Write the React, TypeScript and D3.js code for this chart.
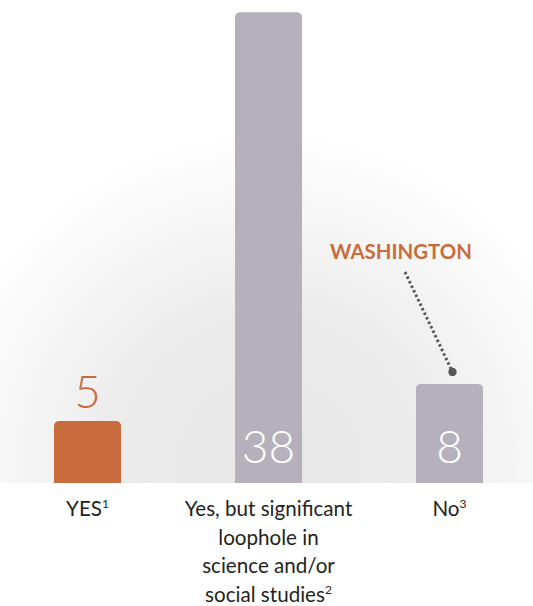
import React from "react";
import * as d3 from "d3";

const categories = ["YES", "Yes, but significant loophole in science and/or social studies", "No"];
const labelLines = [["YES"], ["Yes, but significant", "loophole in", "science and/or", "social studies"], ["No"]];
const footnotes = ["1", "2", "3"];
const values = [5, 38, 8];
const highlight = [true, false, false];
const annotationText = "WASHINGTON";
const annotationIndex = 2;

const W = 533;
const H = 606;
const ORANGE = "#c96c3d";
const GREY = "#b5b0bc";

function roundedTopRect(x: number, y: number, w: number, h: number, r: number) {
  const p = d3.path();
  p.moveTo(x, y + h);
  p.lineTo(x, y + r);
  p.arcTo(x, y, x + r, y, r);
  p.lineTo(x + w - r, y);
  p.arcTo(x + w, y, x + w, y + r, r);
  p.lineTo(x + w, y + h);
  p.closePath();
  return p.toString();
}

export default function App() {
  const baseY = 483;
  const x = d3.scalePoint<string>().domain(categories).range([87.5, 449.5]);
  const y = d3.scaleLinear().domain([0, 38]).range([baseY, 12.3]);
  const bw = 67;
  const font = "Lato, 'Open Sans', sans-serif";

  const aIdx = annotationIndex;
  const ax = x(categories[aIdx])!;
  const dotX = ax + 3;
  const dotY = y(values[aIdx]) - 12;

  return (
    <svg width={W} height={H} style={{ position: "fixed", top: 0, left: 0, background: "#fff" }}>
      <defs>
        <radialGradient id="bg" gradientUnits="userSpaceOnUse" cx={268} cy={470} r={340}>
          <stop offset="0" stopColor="#e7e7e7" />
          <stop offset="0.45" stopColor="#ebebeb" />
          <stop offset="0.78" stopColor="#f7f7f7" />
          <stop offset="1" stopColor="#ffffff" />
        </radialGradient>
      </defs>
      <rect x={0} y={0} width={W} height={baseY} fill="url(#bg)" />
      {categories.map((c, i) => {
        const cx = x(c)!;
        const top = y(values[i]);
        return (
          <path key={c} d={roundedTopRect(cx - bw / 2, top, bw, baseY - top, 5)} fill={highlight[i] ? ORANGE : GREY} />
        );
      })}
      {categories.map((c, i) => {
        const cx = x(c)!;
        const top = y(values[i]);
        const inside = !highlight[i];
        return (
          <text
            key={c + "v"}
            x={cx}
            y={inside ? 463 : top - 13}
            textAnchor="middle"
            fontFamily={font}
            fontWeight={300}
            fontSize={46}
            fill={inside ? "#ffffff" : ORANGE}
          >
            {values[i]}
          </text>
        );
      })}
      {categories.map((c, i) => {
        const cx = x(c)!;
        const lines = labelLines[i];
        return (
          <text key={c + "l"} textAnchor="middle" fontFamily={font} fontSize={20.6} fill="#231f20">
            {lines.map((ln, j) => (
              <tspan key={j} x={cx} y={516 + j * 28.7}>
                {ln}
                {j === lines.length - 1 ? (
                  <tspan fontSize={12} dy={-8}>{footnotes[i]}</tspan>
                ) : null}
              </tspan>
            ))}
          </text>
        );
      })}
      <text x={401} y={259} textAnchor="middle" fontFamily={font} fontWeight={700} fontSize={20.4} fill={ORANGE}>
        {annotationText}
      </text>
      <line x1={405} y1={272} x2={dotX} y2={dotY} stroke="#58585a" strokeWidth={3} strokeDasharray="2.5 2.5" />
      <circle cx={dotX} cy={dotY} r={4.2} fill="#58585a" />
    </svg>
  );
}
